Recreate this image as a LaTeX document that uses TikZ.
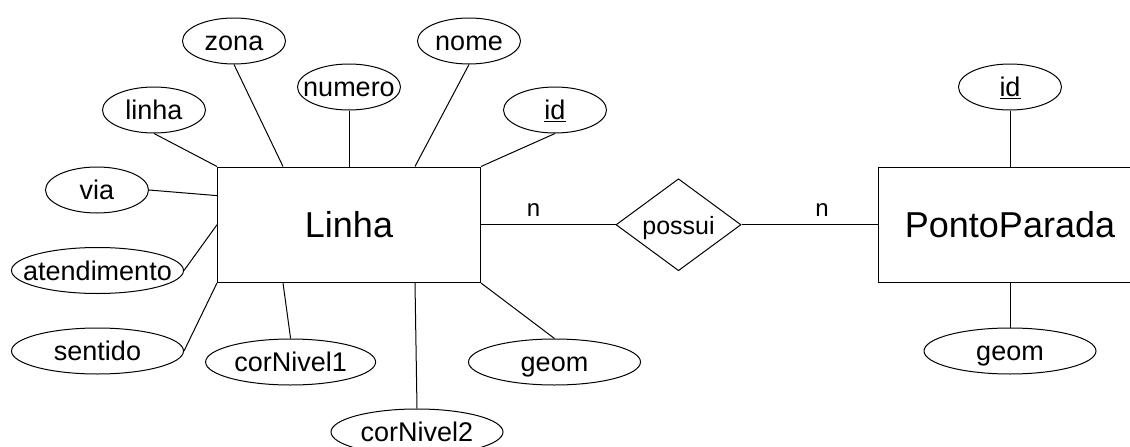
\documentclass[tikz,border=0pt]{standalone}
\usepackage{fontspec}
\setmainfont{Liberation Sans}
\usetikzlibrary{shapes.geometric,calc}
\begin{document}
\begin{tikzpicture}[x=1pt,y=-1pt,
  attr/.style={draw, ellipse, minimum width=103pt, minimum height=46pt, inner sep=0pt, line width=1pt},
  wattr/.style={attr, minimum width=172pt},
  ent/.style={draw, rectangle, minimum width=263pt, minimum height=115.5pt, inner sep=0pt, line width=1pt, font=\fontsize{36}{40}\selectfont},
  rel/.style={draw, diamond, minimum width=125pt, minimum height=92pt, inner sep=0pt, line width=1pt},
  conn/.style={line width=1pt},
  card/.style={font=\fontsize{24}{28}\selectfont, inner sep=0pt},
  every label/.style={font=\fontsize{27}{32}\selectfont, inner sep=0pt, text height=22pt, text depth=3pt},
  rellabel/.style={font=\fontsize{25}{30}\selectfont, inner sep=0pt, text height=20pt, text depth=0pt}
]
\useasboundingbox (0,0) rectangle (1130,447);
\clip (0,0) rectangle (1130,447);

% entities and relation
\node[ent] (L) at (349,224.75) {Linha};
\node[ent] (P) at (1010,224.75) {PontoParada};
\node[rel, label={[rellabel]center:possui}] (R) at (678.5,224.75) {};

% attributes of Linha
\node[attr, label=center:zona] (zona) at (234,41) {};
\node[attr, label=center:nome] (nome) at (469,41) {};
\node[attr, label=center:numero] (numero) at (349,87) {};
\node[attr, label=center:linha] (linha) at (154,110) {};
\node[attr, label={center:\underline{id}}] (idL) at (555,110) {};
\node[attr, label=center:via] (via) at (97,190) {};
\node[wattr, label=center:atendimento] (atend) at (97.5,270.5) {};
\node[wattr, label=center:sentido] (sentido) at (97.5,351) {};
\node[wattr, minimum width=170pt, label=center:corNivel1] (cor1) at (290.6,362) {};
\node[wattr, label=center:corNivel2] (cor2) at (417,432) {};
\node[wattr, label=center:geom] (geomL) at (554.5,362) {};

% attributes of PontoParada
\node[attr, label={center:\underline{id}}] (idP) at (1010,87) {};
\node[wattr, label=center:geom] (geomP) at (1010,351) {};

% connectors
\draw[conn] (zona.south) -- ($(L.north west)!0.25!(L.north east)$);
\draw[conn] (nome.south) -- ($(L.north west)!0.75!(L.north east)$);
\draw[conn] (numero.south) -- (L.north);
\draw[conn] (linha.south) -- (L.north west);
\draw[conn] (idL.south) -- (L.north east);
\draw[conn] (via.east) -- ($(L.north west)!0.25!(L.south west)$);
\draw[conn] (atend.east) -- (L.west);
\draw[conn] (sentido.east) -- (L.south west);
\draw[conn] (cor1.north) -- ($(L.south west)!0.25!(L.south east)$);
\draw[conn] (cor2.north) -- ($(L.south west)!0.75!(L.south east)$);
\draw[conn] (geomL.north) -- (L.south east);
\draw[conn] (idP.south) -- (P.north);
\draw[conn] (geomP.north) -- (P.south);

\draw[conn] (L.east) -- node[card, pos=0.39, above=8pt] {n} (R.west);
\draw[conn] (R.east) -- node[card, pos=0.59, above=8pt] {n} (P.west);
\end{tikzpicture}
\end{document}
